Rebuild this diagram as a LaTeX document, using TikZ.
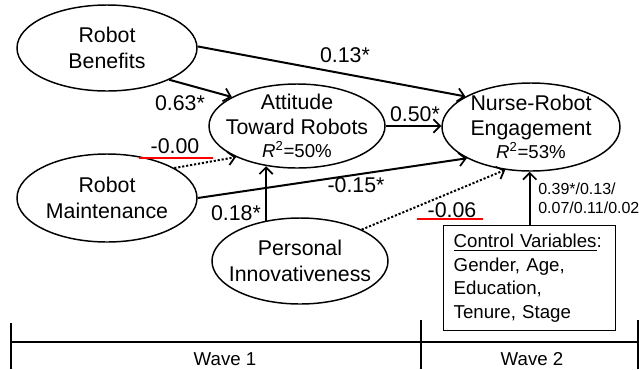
\documentclass[tikz,border=0pt]{standalone}
\usepackage{fontspec}
\setmainfont{Liberation Sans}
\usetikzlibrary{shapes.geometric,arrows.meta}
\begin{document}
\begin{tikzpicture}[x=0.75pt,y=-0.75pt,
  ell/.style={ellipse,draw,line width=1.1pt,inner sep=0pt},
  big/.style={font=\fontsize{16}{19}\selectfont,align=center},
  lab/.style={font=\fontsize{16}{19}\selectfont,inner sep=0pt},
  wav/.style={font=\fontsize{14}{17}\selectfont,inner sep=0pt},
  conn/.style={line width=1.5pt,-{Straight Barb[length=5pt,width=10pt,line width=1.3pt]}},
  dotconn/.style={conn,dash pattern=on 1.6pt off 1.4pt},
  tl/.style={line width=1.1pt}]
\useasboundingbox (0,0) rectangle (639,369);
% ellipses
\node[ell,minimum width=135pt,minimum height=64.5pt,
  label={[big]center:Robot\\Benefits}] (ben) at (107,48) {};
\node[ell,minimum width=132pt,minimum height=63pt,
  label={[big]center:Attitude\\Toward Robots\\[-2pt]{\fontsize{14}{17}\selectfont\textit{R}\textsuperscript{2}=50\%}}] (att) at (297,126) {};
\node[ell,minimum width=133.5pt,minimum height=66pt,
  label={[big]center:Nurse-Robot\\Engagement\\[-2pt]{\fontsize{14}{17}\selectfont\textit{R}\textsuperscript{2}=53\%}}] (nur) at (531,127) {};
\node[ell,minimum width=135pt,minimum height=66pt,
  label={[big]center:Robot\\Maintenance}] (mai) at (107,198) {};
\node[ell,minimum width=132pt,minimum height=64.5pt,
  label={[big]center:Personal\\Innovativeness}] (inn) at (300,261) {};
% control box
\node[draw,line width=1.1pt,anchor=north west,minimum width=129pt,minimum height=78.75pt,
  text width=114pt,inner xsep=7.5pt,inner ysep=4pt,align=left,
  font=\fontsize{14}{17.6}\selectfont] (ctl) at (443,225)
  {\underline{Control Variables}:\\Gender, Age,\\Education,\\Tenure, Stage};
% connectors
\draw[conn] (ben.1) -- (nur.155);
\draw[conn] (ben.-27) -- (att.156);
\draw[dotconn] (mai.24) -- (att.207);
\draw[conn] (att.east) -- (att.east -| nur.west);
\draw[conn] (mai.0) -- (nur.206);
\draw[conn] (inn.130) -- (inn.130 |- att.233);
\draw[dotconn] (inn.27) -- (nur.239);
\draw[conn] (ctl.north) -- (ctl.north |- nur.south);
% labels
\node[lab] (l13) at (345,55) {0.13*};
\node[lab] (l63) at (180,103) {0.63*};
\node[lab] (l00) at (175,146) {-0.00};
\node[lab] (l50) at (415,114) {0.50*};
\node[lab] (l15) at (356,185) {-0.15*};
\node[lab] (l18) at (236,213) {0.18*};
\node[lab] (l06) at (452,210) {-0.06};
\node[font=\fontsize{12}{14.3}\selectfont,align=left,anchor=north west,inner sep=0pt] (lct) at (538,183) {0.39*/0.13/\\0.07/0.11/0.02};
\draw[red,line width=1.1pt] (139,158) -- (213,158);
\draw[red,line width=1.1pt] (417,219) -- (483,219);
% timeline
\draw[tl] (11,342) -- (639,342);
\draw[tl] (11,323) -- (11,369);
\draw[tl] (421,320) -- (421,369);
\draw[tl] (638,320) -- (638,369);
\node[wav] (w1) at (225,359) {Wave 1};
\node[wav] (w2) at (532,359) {Wave 2};
\end{tikzpicture}
\end{document}
